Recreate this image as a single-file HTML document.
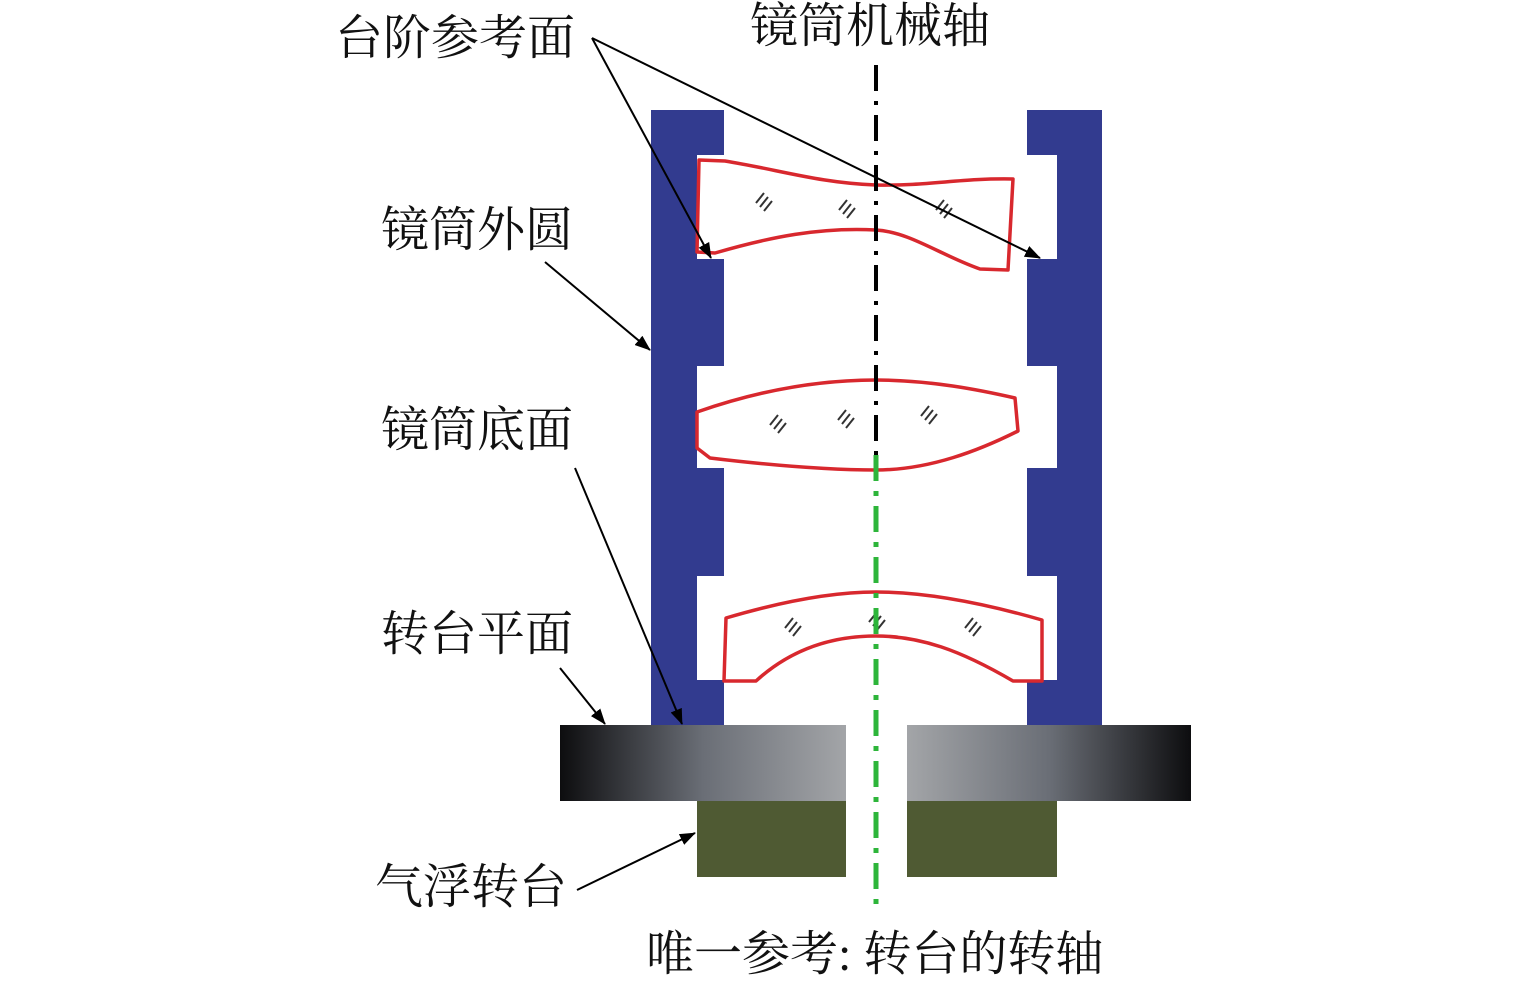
<!DOCTYPE html>
<html><head><meta charset="utf-8"><style>
html,body{margin:0;padding:0;background:#fff;width:1535px;height:984px;overflow:hidden}
svg text{font-family:"Liberation Serif","Noto Serif CJK SC",serif;font-size:48px;fill:#111}
</style></head><body>
<svg width="1535" height="984" viewBox="0 0 1535 984" xmlns="http://www.w3.org/2000/svg">
<defs>
<linearGradient id="gl" x1="0" x2="1" y1="0" y2="0"><stop offset="0" stop-color="#0d0d0f"/><stop offset="0.5" stop-color="#6a6e76"/><stop offset="1" stop-color="#a3a5a8"/></linearGradient>
<linearGradient id="gr" x1="1" x2="0" y1="0" y2="0"><stop offset="0" stop-color="#0d0d0f"/><stop offset="0.5" stop-color="#6a6e76"/><stop offset="1" stop-color="#a3a5a8"/></linearGradient>
<marker id="ah" markerWidth="16" markerHeight="12" refX="15" refY="6" orient="auto" markerUnits="userSpaceOnUse" viewBox="0 0 16 12"><path d="M0,0 L16,6 L0,12 z" fill="#000"/></marker>
</defs>
<path fill="#323b8f" d="M651,110 H724 V155 H697 V259 H724 V366 H697 V468 H724 V576 H697 V680 H724 V726 H651 Z"/>
<path fill="#323b8f" d="M1027,110 H1102 V726 H1027 V680 H1057 V576 H1027 V468 H1057 V366 H1027 V259 H1057 V155 H1027 Z"/>
<rect x="560" y="725" width="286" height="76" fill="url(#gl)"/>
<rect x="907" y="725" width="284" height="76" fill="url(#gr)"/>
<rect x="697" y="801" width="149" height="76" fill="#4f5a33"/>
<rect x="907" y="801" width="150" height="76" fill="#4f5a33"/>
<g fill="none" stroke="#d8282e" stroke-width="3.5" stroke-linejoin="round">
<path d="M699,160 L725,161 C780,170 820,183 876,185 C930,186 960,178 1013,179 L1008,270 L980,269 C940,255 910,232 876,230 C820,227 770,237 715,253 L697,252 Z"/>
<path d="M697,412 C760,390 820,380 876,380 C930,380 980,390 1015,398 L1018,431 C980,450 930,470 876,470 C820,470 760,464 710,458 L697,448 Z"/>
<path d="M726,618 C780,602 830,592 876,592 C930,592 990,605 1042,620 L1042,681 L1013,681 C960,650 920,636 876,636 C830,636 790,650 756,681 L724,681 Z"/>
</g>
<g stroke="#333" stroke-width="2">
<path d="M756,203 l8,-10 M760,207 l8,-10 M764,211 l8,-10"/>
<path d="M839,210 l8,-10 M843,214 l8,-10 M847,218 l8,-10"/>
<path d="M936,210 l8,-10 M940,214 l8,-10 M944,218 l8,-10"/>
<path d="M770,425 l8,-10 M774,429 l8,-10 M778,433 l8,-10"/>
<path d="M838,420 l8,-10 M842,424 l8,-10 M846,428 l8,-10"/>
<path d="M921,416 l8,-10 M925,420 l8,-10 M929,424 l8,-10"/>
<path d="M785,628 l8,-10 M789,632 l8,-10 M793,636 l8,-10"/>
<path d="M869,622 l8,-10 M873,626 l8,-10 M877,630 l8,-10"/>
<path d="M965,628 l8,-10 M969,632 l8,-10 M973,636 l8,-10"/>
</g>
<line x1="876" y1="65" x2="876" y2="455" stroke="#000" stroke-width="4" stroke-dasharray="26,10,4,10"/>
<line x1="876" y1="455" x2="876" y2="905" stroke="#2db53a" stroke-width="5" stroke-dasharray="26,10,5,10"/>
<g stroke="#000" stroke-width="2" marker-end="url(#ah)">
<line x1="592" y1="38" x2="711" y2="258"/>
<line x1="592" y1="38" x2="1040" y2="258"/>
<line x1="545" y1="262" x2="650" y2="350"/>
<line x1="575" y1="468" x2="682" y2="724"/>
<line x1="560" y1="668" x2="605" y2="724"/>
<line x1="577" y1="890" x2="695" y2="833"/>
</g>
<text x="335" y="54">台阶参考面</text>
<text x="750" y="42">镜筒机械轴</text>
<text x="381" y="246">镜筒外圆</text>
<text x="381" y="446">镜筒底面</text>
<text x="381" y="650">转台平面</text>
<text x="375" y="903">气浮转台</text>
<text x="646" y="970">唯一参考: 转台的转轴</text>
</svg>
</body></html>
